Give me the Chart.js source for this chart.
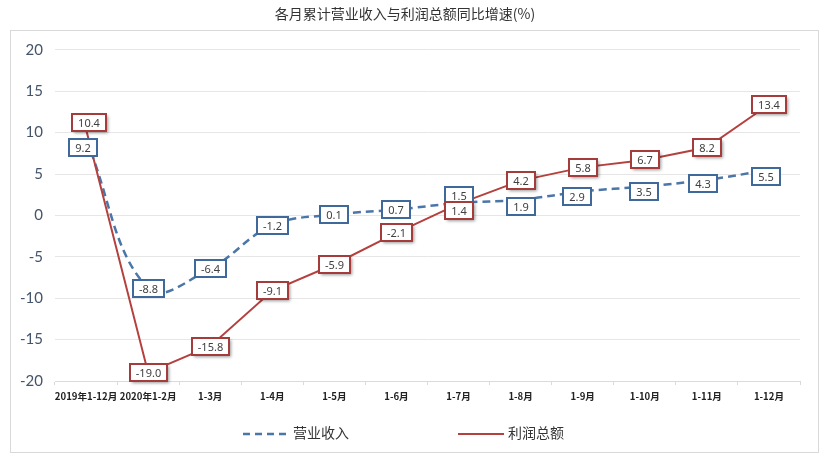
<!DOCTYPE html>
<html lang="zh">
<head>
  <meta charset="utf-8">
  <title>各月累计营业收入与利润总额同比增速</title>
  <script src="https://cdn.jsdelivr.net/npm/chart.js"></script>
  <style>
    body { margin: 0; background: #fff; font-family: 'Noto Sans CJK SC', sans-serif; }
    .wrap { position: relative; width: 833px; height: 466px; }
    .frame {
      position: absolute; left: 10px; top: 30px; width: 807px; height: 421px;
      border: 1px solid #d9d9d9; pointer-events: none;
    }
    .legend { position: absolute; top: 422px; font-size: 14px; color: #333; line-height: 20px; }
    .legend svg { vertical-align: middle; margin-right: 4px; }
  </style>
</head>
<body>

<div class="wrap">
  <canvas id="chart" width="833" height="466"></canvas>
  <div class="frame"></div>
  <!-- 凡例 -->
  <div class="legend" style="left:243px">
    <svg width="46" height="4"><line x1="0" y1="2" x2="46" y2="2" stroke="#4b76a8" stroke-width="2.5" stroke-dasharray="7,5"/></svg>营业收入
  </div>
  <div class="legend" style="left:458px">
    <svg width="46" height="4"><line x1="0" y1="2" x2="46" y2="2" stroke="#b5413f" stroke-width="2"/></svg>利润总额
  </div>
</div>

<script>
  const categories = ['2019年1-12月', '2020年1-2月', '1-3月', '1-4月', '1-5月', '1-6月',
                      '1-7月', '1-8月', '1-9月', '1-10月', '1-11月', '1-12月'];
  const revenue = [9.2, -8.8, -6.4, -1.2, 0.1, 0.7, 1.5, 1.9, 2.9, 3.5, 4.3, 5.5];   // 营业收入
  const profit = [10.4, -19.0, -15.8, -9.1, -5.9, -2.1, 1.4, 4.2, 5.8, 6.7, 8.2, 13.4]; // 利润总额
  const yTicks = [-20, -15, -10, -5, 0, 5, 10, 15, 20];

  // ラベル枠の見た目（系列ごと）
  const labelStyles = [
    { border: '#3f689b', shadow: false, dy: [8, 0, 0, 0, 0, 0, -7, 7, 5, 5, 4, 7], dx: [-3, 0, 0, 0, 0, 0, 0, 0, -6, -1, -4, -3] },
    { border: '#a33c3a', shadow: true, dy: [-7, 0, 0, 0, 0, 0, 7, 0, 0, 0, 0, 0], dx: [3, 0, 0, 0, 0, 0, 0, 0, 0, 0, 0, 0] }
  ];

  const boxLabels = {
    id: 'boxLabels',
    afterDatasetsDraw(chart) {
      const ctx = chart.ctx;
      chart.data.datasets.forEach((ds, i) => {
        const meta = chart.getDatasetMeta(i);
        const st = labelStyles[i];
        meta.data.forEach((pt, j) => {
          const text = ds.data[j].toFixed(1);
          ctx.save();
          ctx.font = '11px "Noto Sans"';
          const w = Math.round(ctx.measureText(text).width + 12);
          const h = 17;
          const x = Math.round(pt.x + st.dx[j] - w / 2);
          const y = Math.round(pt.y + st.dy[j] - h / 2);
          if (st.shadow) {
            ctx.shadowColor = 'rgba(0,0,0,0.4)';
            ctx.shadowOffsetX = 2;
            ctx.shadowOffsetY = 2;
            ctx.shadowBlur = 3;
          }
          ctx.fillStyle = '#fff';
          ctx.fillRect(x, y, w, h);
          ctx.shadowColor = 'transparent';
          ctx.strokeStyle = st.border;
          ctx.lineWidth = 2;
          ctx.strokeRect(x, y, w, h);
          ctx.fillStyle = '#404040';
          ctx.textAlign = 'center';
          ctx.textBaseline = 'middle';
          ctx.fillText(text, x + w / 2, y + h / 2 + 1);
          ctx.restore();
        });
      });
    }
  };

  new Chart(document.getElementById('chart'), {
    type: 'line',
    data: {
      labels: categories,
      datasets: [
        {
          label: '营业收入',
          data: revenue,
          borderColor: '#4b76a8',
          borderWidth: 2.5,
          borderDash: [8, 5],
          tension: 0.4,
          pointRadius: 0,
          order: 1
        },
        {
          label: '利润总额',
          data: profit,
          borderColor: '#b5413f',
          borderWidth: 2,
          tension: 0,
          pointRadius: 0,
          order: 0
        }
      ]
    },
    options: {
      responsive: false,
      animation: false,
      layout: { padding: { left: 10, right: 33, bottom: 0 } },
      plugins: {
        legend: { display: false },
        tooltip: { enabled: false },
        title: {
          display: true,
          text: '各月累计营业收入与利润总额同比增速(%)',
          color: '#333',
          font: { family: 'Noto Sans CJK SC', size: 14, weight: 'normal' },
          padding: { top: 5, bottom: 28 }
        }
      },
      scales: {
        x: {
          offset: true,
          grid: { offset: true, drawOnChartArea: false, color: '#d5dbe2', tickLength: 4 },
          border: { color: '#d5dbe2' },
          ticks: {
            color: '#222',
            padding: 6,
            maxRotation: 0,
            autoSkip: false,
            font: { family: 'Noto Sans CJK SC', size: 9.6, weight: 'bold' }
          },
          afterFit: s => { s.height = 85; }
        },
        y: {
          min: -20,
          max: 20,
          afterBuildTicks: s => { s.ticks = yTicks.map(v => ({ value: v })); },
          grid: { color: '#e6e6e6', drawTicks: false },
          border: { display: false },
          ticks: {
            color: '#44546a',
            padding: 12,
            font: { family: 'Lato', size: 15 }
          },
          afterFit: s => { s.width = 45; }
        }
      }
    },
    plugins: [boxLabels]
  });
</script>

</body>
</html>
